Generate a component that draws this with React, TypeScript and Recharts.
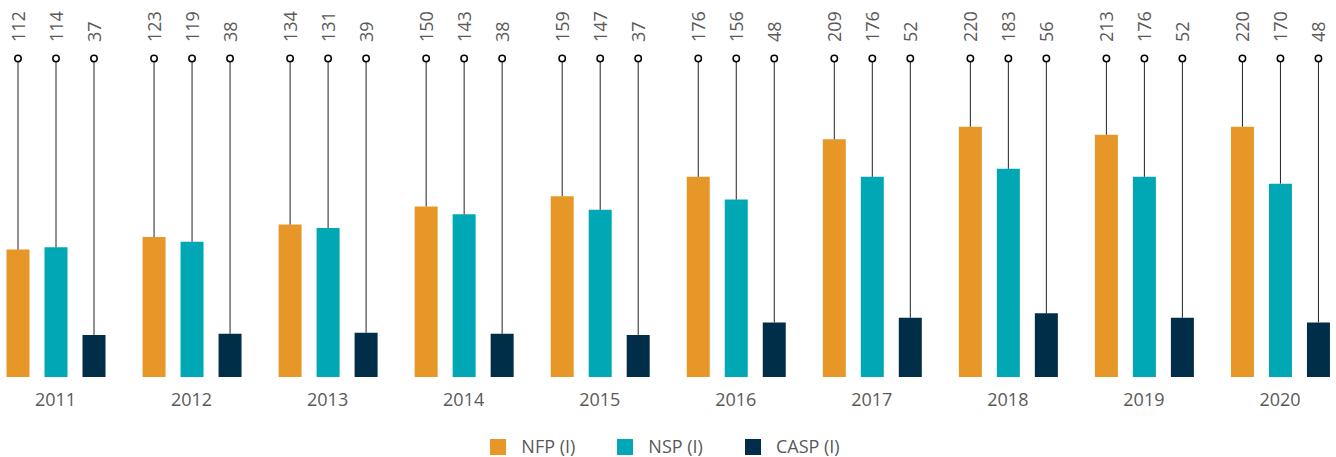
import React from 'react';
import { BarChart, Bar, XAxis, YAxis, LabelList } from 'recharts';

const years = ['2011', '2012', '2013', '2014', '2015', '2016', '2017', '2018', '2019', '2020'];
const nfp = [112, 123, 134, 150, 159, 176, 209, 220, 213, 220];
const nsp = [114, 119, 131, 143, 147, 156, 176, 183, 176, 170];
const casp = [37, 38, 39, 38, 37, 48, 52, 56, 52, 48];

const series = [
  { key: 'nfp', name: 'NFP (I)', color: '#E69727' },
  { key: 'nsp', name: 'NSP (I)', color: '#00A8B5' },
  { key: 'casp', name: 'CASP (I)', color: '#002D48' },
];

const data = years.map((year, i) => ({ year, nfp: nfp[i], nsp: nsp[i], casp: casp[i] }));

const TOP = 58.5; // plot top, where the stem circles sit
const FONT = '"Open Sans", sans-serif';
const TEXT = '#595959';

const StemLabel = (props: any) => {
  const { x, y, width, value } = props;
  const cx = x + width / 2;
  return (
    <g>
      <line x1={cx} y1={y} x2={cx} y2={TOP + 3} stroke="#222" strokeWidth={1} />
      <circle cx={cx} cy={TOP} r={3.2} fill="#fff" stroke="#000" strokeWidth={1.5} />
      <text
        x={cx + 6.5}
        y={42}
        transform={`rotate(-90 ${cx + 6.5} 42)`}
        textAnchor="start"
        fontSize={18}
        fontFamily={FONT}
        fill={TEXT}
      >
        {value}
      </text>
    </g>
  );
};

const YearTick = (props: any) => {
  const { x, y, payload } = props;
  return (
    <text x={x} y={y + 29} textAnchor="middle" fontSize={18} fontFamily={FONT} fill={TEXT}>
      {payload.value}
    </text>
  );
};

export default function App() {
  return (
    <div style={{ position: 'absolute', left: 0, top: 0, width: 1336, height: 457, overflow: 'hidden', background: '#fff' }}>
      <div style={{ position: 'absolute', left: -13, top: 0 }}>
        <BarChart
          width={1361}
          height={457}
          data={data}
          margin={{ top: TOP, right: 0, left: 0.5, bottom: 50 }}
          barSize={23}
          barGap={15}
        >
          <XAxis
            dataKey="year"
            axisLine={false}
            tickLine={false}
            tickSize={0}
            tickMargin={0}
            height={30}
            tick={<YearTick />}
            interval={0}
          />
          <YAxis hide domain={[0, 280]} />
          {series.map((s) => (
            <Bar key={s.key} dataKey={s.key} name={s.name} fill={s.color} isAnimationActive={false}>
              <LabelList dataKey={s.key} content={<StemLabel />} />
            </Bar>
          ))}
        </BarChart>
      </div>
      <div
        style={{
          position: 'absolute',
          left: -3,
          top: 437,
          width: 1336,
          height: 19,
          display: 'flex',
          justifyContent: 'center',
          alignItems: 'center',
          fontFamily: FONT,
          fontSize: 18,
          color: TEXT,
          lineHeight: '19px',
        }}
      >
        {series.map((s, i) => (
          <div key={s.key} style={{ display: 'flex', alignItems: 'center', marginLeft: i === 0 ? 0 : 42 }}>
            <span style={{ width: 16, height: 16, background: s.color, display: 'inline-block', marginRight: 15 }} />
            <span>{s.name}</span>
          </div>
        ))}
      </div>
    </div>
  );
}
